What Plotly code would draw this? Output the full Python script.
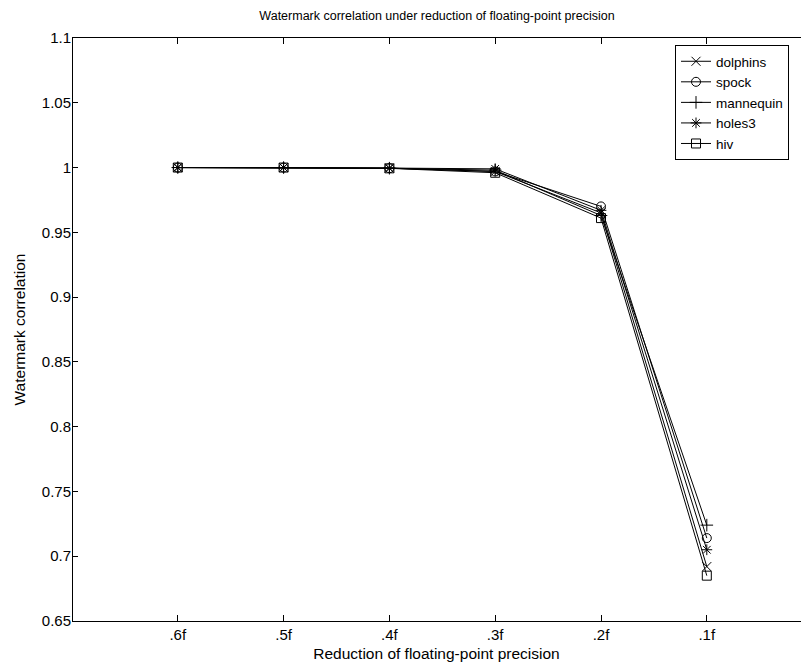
import plotly.graph_objects as go

categories = [".6f", ".5f", ".4f", ".3f", ".2f", ".1f"]
x_pos = [1, 2, 3, 4, 5, 6]
dolphins = [1.0, 1.0, 0.9995, 0.997, 0.965, 0.692]
spock = [1.0, 1.0, 0.9995, 0.997, 0.970, 0.714]
mannequin = [1.0, 1.0, 0.9995, 0.998, 0.963, 0.724]
holes3 = [1.0, 1.0, 0.9996, 0.999, 0.967, 0.705]
hiv = [1.0, 1.0, 0.9994, 0.996, 0.961, 0.685]

series = [
    ("dolphins", dolphins, "x-thin-open"),
    ("spock", spock, "circle-open"),
    ("mannequin", mannequin, "cross-thin-open"),
    ("holes3", holes3, "asterisk-open"),
    ("hiv", hiv, "square-open"),
]

fig = go.Figure()
for name, vals, sym in series:
    fig.add_trace(go.Scatter(
        x=x_pos, y=vals, name=name, mode="lines+markers",
        line=dict(color="black", width=1),
        marker=dict(symbol=sym, size=9, color="black", line=dict(color="black", width=1)),
    ))

W, H = 801, 663
L, R, T, B = 72, 0, 38, 42
px_per_unit = 105.8
xmax = (W - L - R) / px_per_unit

font = "Liberation Sans, Arial, Helvetica, sans-serif"
fig.update_layout(
    width=W, height=H,
    margin=dict(l=L, r=R, t=T, b=B, autoexpand=False),
    paper_bgcolor="white", plot_bgcolor="white",
    font=dict(family=font, size=15, color="black"),
    title=dict(text="Watermark correlation under reduction of floating-point precision",
               x=437 / W, xanchor="center",
               y=1 - 16 / H, yanchor="middle", font=dict(size=12.5)),
    showlegend=True,
    legend=dict(x=(789 - L) / (W - L - R), xanchor="right", y=1 - (45 - T) / (H - T - B), yanchor="top",
                bordercolor="black", borderwidth=1, bgcolor="white",
                font=dict(size=13.5), tracegroupgap=0, itemwidth=30),
)
fig.update_xaxes(
    range=[0, xmax], tickvals=x_pos, ticktext=categories,
    showgrid=False, zeroline=True, zerolinecolor="black", zerolinewidth=1,
    showline=True, mirror="ticks", linecolor="black", linewidth=1,
    ticks="inside", ticklen=6, tickcolor="black",
    tickfont=dict(size=15),
    title=dict(text="Reduction of floating-point precision", standoff=6, font=dict(size=15.5)),
)
fig.update_yaxes(
    range=[0.65, 1.1], tickvals=[0.65, 0.7, 0.75, 0.8, 0.85, 0.9, 0.95, 1.0, 1.05, 1.1],
    ticktext=["0.65", "0.7", "0.75", "0.8", "0.85", "0.9", "0.95", "1", "1.05", "1.1"],
    showgrid=False, zeroline=False, showline=False, mirror=False,
    ticks="inside", ticklen=6, tickcolor="black",
    tickfont=dict(size=15),
    title=dict(text="Watermark correlation", standoff=12, font=dict(size=15.5)),
)

fig.write_html("out.html", config={"displayModeBar": False})
